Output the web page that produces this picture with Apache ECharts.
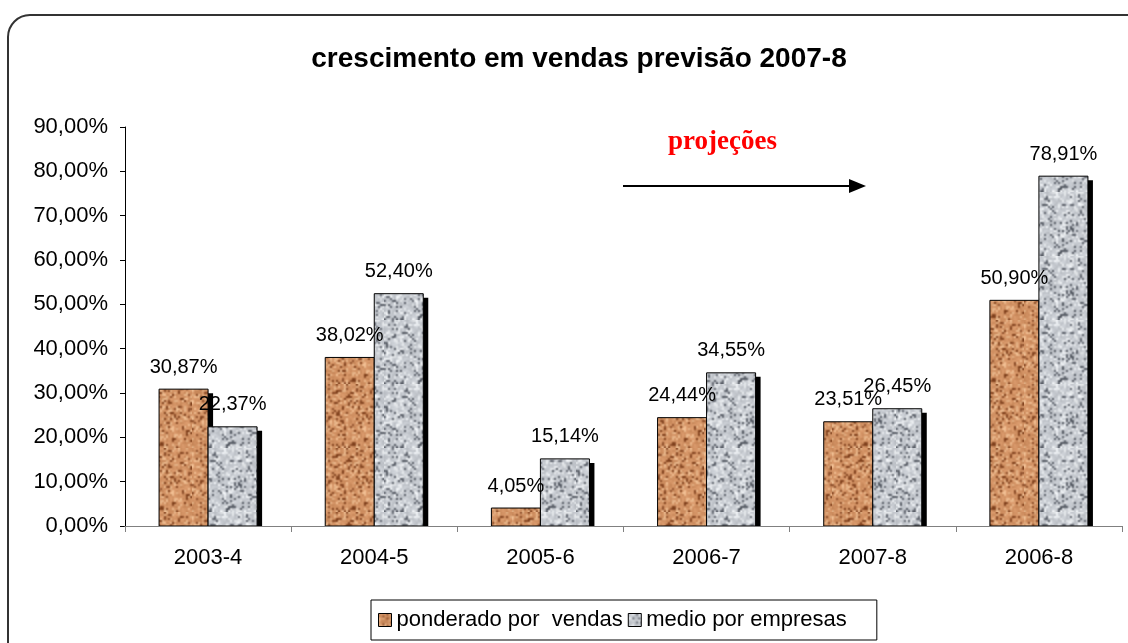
<!DOCTYPE html>
<html lang="pt">

<head>
  <meta charset="UTF-8">
  <title>crescimento em vendas previsão 2007-8</title>
  <style>
    html, body { margin: 0; padding: 0; background: #fff; }
    #myEcharts { width: 1128px; height: 643px; }
  </style>
  <script src="https://cdn.jsdelivr.net/npm/echarts@6/dist/echarts.min.js"></script>
</head>

<body>
  <div id="myEcharts"></div>
  <script>
    // dados
    var categorias = ['2003-4', '2004-5', '2005-6', '2006-7', '2007-8', '2006-8'];
    var ponderadoVendas = [30.87, 38.02, 4.05, 24.44, 23.51, 50.90];
    var medioEmpresas = [22.37, 52.40, 15.14, 34.55, 26.45, 78.91];
    var yTicks = [0, 10, 20, 30, 40, 50, 60, 70, 80, 90];

    function pct(v) {
      return v.toFixed(2).replace('.', ',') + '%';
    }

    // textura tipo granito (só decoração, gerada de forma determinística)
    function textura(base, escuro, claro, seed) {
      var n = 32;
      var small = document.createElement('canvas');
      small.width = n; small.height = n;
      var sctx = small.getContext('2d');
      var img = sctx.createImageData(n, n);
      var s = seed;
      function rnd() { s = (s * 1103515245 + 12345) % 2147483648; return s / 2147483648; }
      for (var i = 0; i < n * n; i++) {
        var r = rnd(), col;
        if (r < 0.14) col = escuro;
        else if (r < 0.34) col = claro;
        else col = base;
        var j = rnd() * 24 - 12;
        img.data[i * 4] = Math.max(0, Math.min(255, col[0] + j));
        img.data[i * 4 + 1] = Math.max(0, Math.min(255, col[1] + j));
        img.data[i * 4 + 2] = Math.max(0, Math.min(255, col[2] + j));
        img.data[i * 4 + 3] = 255;
      }
      sctx.putImageData(img, 0, 0);
      // amplia 2x com suavização para dar manchas
      var c = document.createElement('canvas');
      c.width = n * 2; c.height = n * 2;
      var ctx = c.getContext('2d');
      ctx.imageSmoothingEnabled = true;
      ctx.drawImage(small, 0, 0, n * 2, n * 2);
      return { image: c, repeat: 'repeat' };
    }

    var laranja = textura([210, 146, 100], [135, 72, 36], [232, 182, 138], 7);
    var cinza = textura([196, 200, 206], [92, 97, 106], [232, 235, 238], 13);

    var fonte = 'Liberation Sans, Arial, sans-serif';

    // barra com sombra preta à direita, desenhada a partir das escalas do eixo
    function barra(lado, tex) {
      return function (params, api) {
        var idx = api.value(0), val = api.value(1);
        var topo = api.coord([idx, val]);
        var base = api.coord([idx, 0]);
        var w = api.size([1, 0])[0] * 0.295;
        var x = lado === 0 ? topo[0] - w : topo[0];
        var h = base[1] - topo[1];
        return {
          type: 'group',
          children: [
            { type: 'rect', shape: { x: x + 5, y: topo[1] + 4, width: w, height: h - 4 }, style: { fill: '#000' } },
            { type: 'rect', shape: { x: x, y: topo[1], width: w, height: h }, style: { fill: tex, stroke: '#000', lineWidth: 1 } },
            {
              type: 'text', z2: 100,
              style: {
                text: pct(val), x: x + w / 2, y: topo[1] - 12,
                align: 'center', verticalAlign: 'bottom',
                font: '20px ' + fonte, fill: '#000'
              }
            }
          ]
        };
      };
    }

    var myChart = echarts.init(document.getElementById('myEcharts'));

    var option = {
      animation: false,
      title: {
        text: 'crescimento em vendas previsão 2007-8',
        left: 574,
        textAlign: 'center',
        top: 40,
        textStyle: { fontFamily: fonte, fontSize: 28, fontWeight: 'bold', color: '#000' }
      },
      legend: {
        left: 371,
        top: 600,
        padding: [9, 30, 9, 7],
        borderColor: '#000',
        borderWidth: 1,
        itemWidth: 13,
        itemHeight: 13,
        itemGap: 5,
        icon: 'rect',
        itemStyle: { borderColor: '#000', borderWidth: 1 },
        textStyle: { fontFamily: fonte, fontSize: 22, color: '#000' },
        data: ['ponderado por  vendas', 'medio por empresas']
      },
      grid: { left: 125, right: 6, top: 127, bottom: 117 },
      xAxis: {
        type: 'category',
        data: categorias,
        z: 10,
        axisLine: { lineStyle: { color: '#808080', width: 1 } },
        axisTick: { show: true, length: 6, lineStyle: { color: '#808080' } },
        axisLabel: { margin: 21, fontFamily: fonte, fontSize: 22, color: '#000' }
      },
      yAxis: {
        type: 'value',
        min: yTicks[0],
        max: yTicks[yTicks.length - 1],
        interval: 10,
        splitLine: { show: false },
        axisLine: { show: true, lineStyle: { color: '#000', width: 1 } },
        axisTick: { show: true, length: 5, lineStyle: { color: '#000' } },
        axisLabel: {
          margin: 17, fontFamily: fonte, fontSize: 22, color: '#000',
          formatter: function (v) { return pct(v); }
        }
      },
      series: [
        {
          name: 'ponderado por  vendas',
          type: 'custom',
          renderItem: barra(0, laranja),
          itemStyle: { color: laranja },
          encode: { x: 0, y: 1 },
          data: ponderadoVendas.map(function (v, i) { return [i, v]; })
        },
        {
          name: 'medio por empresas',
          type: 'custom',
          renderItem: barra(1, cinza),
          itemStyle: { color: cinza },
          encode: { x: 0, y: 1 },
          data: medioEmpresas.map(function (v, i) { return [i, v]; })
        }
      ],
      graphic: [
        {
          type: 'rect',
          shape: { x: 8, y: 15, width: 1140, height: 680, r: 22 },
          style: { fill: 'none', stroke: '#333', lineWidth: 2 },
          silent: true, z: -1
        },
        {
          type: 'text',
          left: 668, top: 129,
          style: {
            text: 'projeções', fill: '#ff0000',
            font: 'bold 27px "Liberation Serif", "Times New Roman", serif',
            textShadowColor: '#9a9a9a', textShadowOffsetX: -2, textShadowOffsetY: -1, textShadowBlur: 0
          }
        },
        {
          type: 'line',
          shape: { x1: 623, y1: 186, x2: 852, y2: 186 },
          style: { stroke: '#000', lineWidth: 2 }
        },
        {
          type: 'polygon',
          shape: { points: [[849, 179], [866, 186], [849, 193]] },
          style: { fill: '#000' }
        }
      ]
    };
    myChart.setOption(option);
  </script>
</body>

</html>
